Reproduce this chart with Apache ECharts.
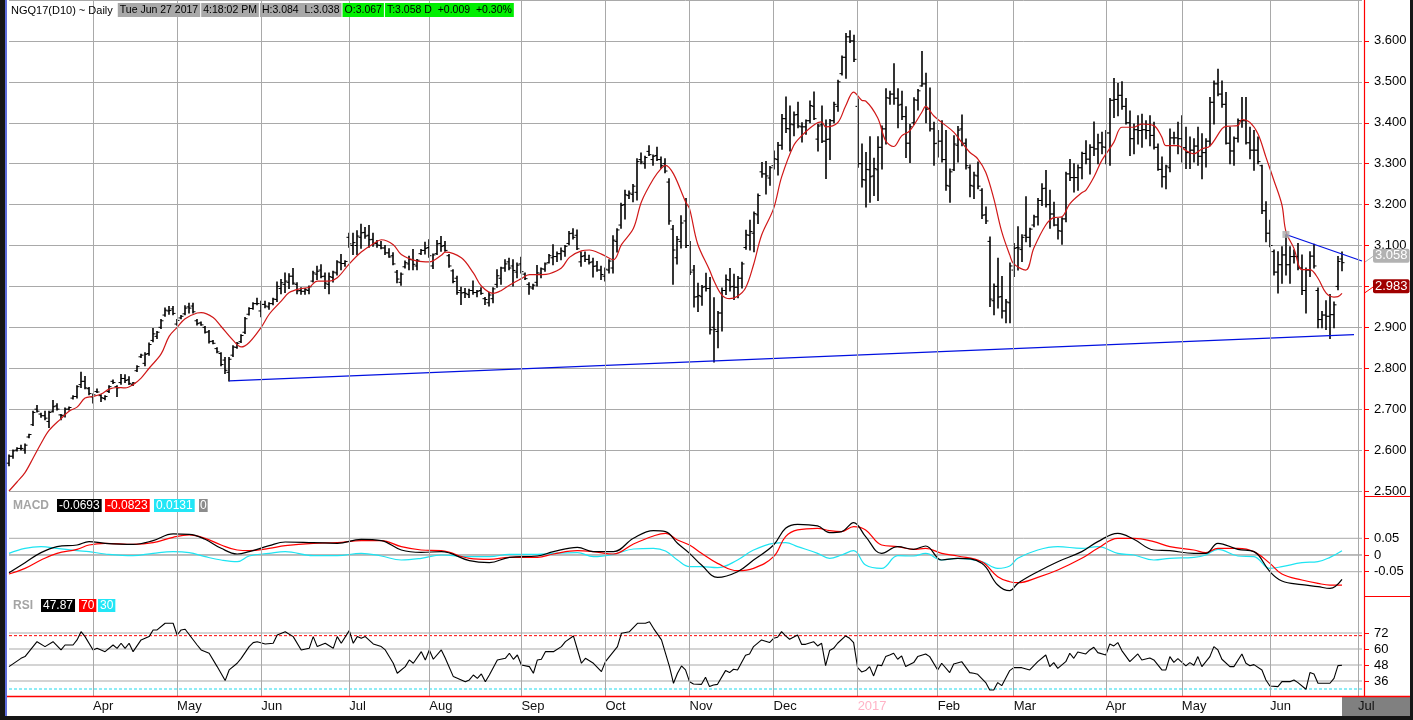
<!DOCTYPE html>
<html><head><meta charset="utf-8">
<script src="https://cdn.jsdelivr.net/npm/echarts@6/dist/echarts.min.js"></script>
<style>html,body{margin:0;padding:0;background:#fff}#c{width:1413px;height:720px}</style>
</head><body><div id="c"></div>
<script>
// ---------- DATA ----------
const holidays = ['2016-03-25','2016-05-30','2016-07-04','2016-09-05','2016-11-24','2016-12-26','2017-01-02','2017-01-16','2017-02-20','2017-04-14','2017-05-29','2017-07-04'];
const firstDay = '2016-03-02', lastDay = '2017-07-05';
const monthNames = ['Jan','Feb','Mar','Apr','May','Jun','Jul','Aug','Sep','Oct','Nov','Dec'];

const highs = [
2.588,2.600,2.606,2.612,2.615,2.639,2.695,2.709,2.690,2.695,
2.695,2.721,2.713,2.687,2.703,2.705,2.733,2.757,2.790,2.780,
2.753,2.737,2.749,2.735,2.733,2.757,2.771,2.757,2.785,2.784,
2.779,2.765,2.806,2.834,2.838,2.862,2.897,2.890,2.919,2.947,
2.951,2.951,2.919,2.929,2.953,2.959,2.959,2.919,2.913,2.902,
2.892,2.868,2.850,2.838,2.826,2.826,2.855,2.863,2.882,2.924,
2.948,2.960,2.971,2.964,2.964,2.960,2.971,3.011,3.017,3.033,
3.031,3.044,3.009,2.997,2.995,3.001,3.037,3.049,3.053,3.033,
3.033,3.037,3.063,3.078,3.063,3.130,3.130,3.136,3.152,3.144,
3.149,3.130,3.112,3.110,3.100,3.092,3.082,3.039,3.033,3.062,
3.074,3.090,3.066,3.090,3.108,3.114,3.079,3.112,3.122,3.110,
3.078,3.041,3.025,2.998,2.995,2.993,3.013,2.990,2.997,2.973,
2.985,2.997,3.041,3.047,3.065,3.069,3.065,3.057,3.071,3.033,
3.009,3.005,3.051,3.045,3.057,3.078,3.102,3.084,3.094,3.100,
3.134,3.141,3.138,3.084,3.084,3.076,3.069,3.061,3.049,3.045,
3.065,3.124,3.141,3.203,3.235,3.233,3.249,3.312,3.326,3.318,
3.344,3.321,3.340,3.316,3.312,3.263,3.149,3.122,3.173,3.215,
3.110,3.051,3.008,3.002,3.032,3.022,2.972,2.939,2.996,3.028,
3.044,3.030,3.024,3.059,3.137,3.162,3.182,3.226,3.303,3.305,
3.293,3.331,3.352,3.420,3.463,3.441,3.426,3.450,3.400,3.407,
3.453,3.475,3.396,3.441,3.407,3.408,3.450,3.504,3.563,3.618,
3.625,3.614,3.458,3.348,3.327,3.366,3.313,3.366,3.392,3.483,
3.477,3.544,3.483,3.477,3.439,3.396,3.461,3.481,3.574,3.521,
3.485,3.401,3.381,3.405,3.381,3.287,3.368,3.391,3.419,3.360,
3.297,3.279,3.304,3.239,3.194,3.121,3.006,3.069,3.024,2.968,
3.057,3.105,3.146,3.126,3.219,3.142,3.174,3.215,3.251,3.283,
3.235,3.206,3.166,3.168,3.279,3.310,3.300,3.297,3.328,3.356,
3.346,3.402,3.372,3.377,3.381,3.459,3.508,3.496,3.500,3.459,
3.429,3.397,3.417,3.421,3.405,3.417,3.401,3.348,3.316,3.296,
3.385,3.377,3.401,3.417,3.389,3.365,3.361,3.389,3.373,3.361,
3.462,3.502,3.531,3.502,3.474,3.389,3.365,3.409,3.462,3.462,
3.389,3.381,3.365,3.296,3.207,3.162,3.089,3.085,3.097,3.126,
3.097,3.089,3.105,3.077,3.045,3.085,3.103,2.996,2.939,2.965,
2.980,2.962,3.073,3.084];

const lows = [
2.562,2.580,2.598,2.600,2.592,2.630,2.660,2.693,2.680,2.674,
2.655,2.693,2.698,2.674,2.681,2.698,2.725,2.727,2.753,2.750,
2.735,2.715,2.741,2.719,2.723,2.741,2.763,2.731,2.761,2.765,
2.760,2.758,2.792,2.826,2.806,2.832,2.865,2.873,2.897,2.927,
2.932,2.931,2.905,2.921,2.931,2.935,2.935,2.906,2.905,2.886,
2.862,2.860,2.838,2.806,2.787,2.769,2.829,2.849,2.863,2.885,
2.930,2.944,2.955,2.926,2.948,2.944,2.955,2.963,2.982,2.985,
2.995,3.005,2.982,2.981,2.981,2.982,3.011,3.017,3.021,2.995,
2.982,3.011,3.028,3.041,3.049,3.096,3.078,3.078,3.093,3.118,
3.096,3.098,3.096,3.092,3.078,3.071,3.053,3.009,3.003,3.045,
3.041,3.041,3.041,3.078,3.079,3.071,3.044,3.078,3.086,3.086,
3.047,3.009,2.981,2.956,2.973,2.973,2.981,2.975,2.981,2.956,
2.952,2.960,2.998,3.005,3.037,3.041,3.001,3.021,3.033,3.017,
2.981,2.993,3.001,3.021,3.037,3.057,3.053,3.061,3.065,3.074,
3.102,3.116,3.090,3.049,3.061,3.055,3.023,3.037,3.017,3.013,
3.033,3.033,3.084,3.142,3.165,3.215,3.207,3.211,3.300,3.289,
3.320,3.296,3.308,3.289,3.278,3.152,3.005,3.055,3.094,3.095,
3.029,2.950,2.939,2.954,2.989,2.884,2.815,2.850,2.891,2.980,
2.989,2.968,2.972,2.996,3.091,3.089,3.085,3.154,3.267,3.226,
3.247,3.287,3.272,3.335,3.376,3.331,3.368,3.388,3.353,3.372,
3.400,3.408,3.331,3.352,3.264,3.310,3.400,3.428,3.517,3.509,
3.596,3.550,3.291,3.243,3.194,3.206,3.222,3.210,3.287,3.348,
3.445,3.445,3.388,3.408,3.315,3.303,3.396,3.431,3.489,3.400,
3.380,3.296,3.316,3.304,3.235,3.206,3.283,3.304,3.344,3.287,
3.219,3.215,3.239,3.166,3.154,2.951,2.931,2.947,2.923,2.911,
2.911,3.024,3.040,3.061,3.109,3.097,3.146,3.150,3.198,3.194,
3.142,3.148,3.116,3.103,3.158,3.259,3.231,3.235,3.263,3.300,
3.275,3.320,3.300,3.324,3.300,3.296,3.413,3.417,3.433,3.397,
3.320,3.324,3.348,3.340,3.361,3.344,3.336,3.284,3.243,3.239,
3.280,3.348,3.324,3.304,3.288,3.288,3.304,3.296,3.263,3.292,
3.344,3.397,3.466,3.438,3.348,3.300,3.296,3.353,3.389,3.348,
3.312,3.284,3.300,3.178,3.109,3.097,3.028,2.984,3.008,3.028,
3.008,3.057,3.041,2.980,2.935,3.024,3.045,2.899,2.899,2.895,
2.873,2.899,2.992,3.038];

const opens = [
2.568,2.585,2.600,2.604,2.600,2.632,2.662,2.700,2.688,2.684,
2.670,2.695,2.708,2.686,2.685,2.700,2.727,2.731,2.760,2.768,
2.750,2.730,2.743,2.733,2.726,2.743,2.768,2.755,2.765,2.775,
2.772,2.760,2.794,2.828,2.812,2.836,2.868,2.878,2.900,2.930,
2.940,2.945,2.908,2.923,2.933,2.950,2.952,2.916,2.911,2.900,
2.889,2.866,2.848,2.836,2.820,2.790,2.832,2.851,2.865,2.888,
2.932,2.946,2.958,2.940,2.956,2.950,2.958,2.968,2.995,3.005,
3.010,3.025,3.005,2.990,2.988,2.990,3.013,3.030,3.040,3.025,
3.005,3.022,3.033,3.058,3.056,3.120,3.100,3.100,3.120,3.132,
3.125,3.115,3.105,3.100,3.094,3.082,3.075,3.035,3.010,3.048,
3.055,3.065,3.050,3.080,3.088,3.095,3.050,3.080,3.105,3.100,
3.075,3.038,3.020,2.990,2.985,2.980,2.990,2.985,2.990,2.970,
2.960,2.970,3.005,3.020,3.045,3.060,3.050,3.035,3.055,3.030,
3.005,2.996,3.010,3.030,3.042,3.058,3.070,3.073,3.080,3.085,
3.105,3.130,3.125,3.060,3.075,3.066,3.060,3.050,3.040,3.025,
3.040,3.045,3.110,3.150,3.200,3.222,3.225,3.230,3.310,3.300,
3.330,3.310,3.320,3.310,3.300,3.255,3.140,3.070,3.110,3.160,
3.100,3.040,2.975,2.975,3.000,2.995,2.900,2.890,2.935,2.990,
3.015,3.000,2.998,3.020,3.095,3.125,3.130,3.175,3.280,3.275,
3.265,3.295,3.310,3.345,3.410,3.385,3.395,3.420,3.390,3.390,
3.405,3.440,3.360,3.395,3.355,3.360,3.405,3.440,3.520,3.560,
3.610,3.600,3.440,3.300,3.260,3.285,3.270,3.285,3.340,3.385,
3.460,3.470,3.460,3.445,3.415,3.350,3.400,3.455,3.490,3.495,
3.435,3.385,3.350,3.355,3.310,3.245,3.285,3.345,3.385,3.350,
3.290,3.245,3.270,3.235,3.175,3.110,2.965,3.000,2.975,2.940,
2.960,3.040,3.095,3.090,3.125,3.120,3.150,3.170,3.210,3.240,
3.200,3.177,3.150,3.135,3.165,3.275,3.266,3.266,3.290,3.325,
3.311,3.340,3.336,3.351,3.340,3.375,3.455,3.457,3.467,3.440,
3.400,3.361,3.383,3.381,3.383,3.381,3.369,3.340,3.286,3.268,
3.290,3.363,3.363,3.361,3.339,3.327,3.333,3.343,3.318,3.327,
3.355,3.450,3.495,3.470,3.445,3.350,3.331,3.362,3.405,3.405,
3.351,3.333,3.333,3.295,3.185,3.130,3.085,3.035,3.053,3.077,
3.053,3.073,3.073,3.045,2.990,3.040,3.074,2.990,2.919,2.930,
2.927,2.931,3.000,3.067];

const closes = [
2.585,2.598,2.604,2.604,2.612,2.638,2.692,2.695,2.684,2.678,
2.692,2.706,2.700,2.685,2.700,2.704,2.731,2.755,2.768,2.752,
2.738,2.735,2.742,2.728,2.731,2.755,2.765,2.752,2.775,2.770,
2.763,2.764,2.804,2.832,2.834,2.858,2.884,2.888,2.916,2.942,
2.941,2.934,2.917,2.927,2.947,2.947,2.938,2.909,2.906,2.888,
2.865,2.861,2.840,2.809,2.795,2.822,2.852,2.861,2.880,2.921,
2.946,2.958,2.958,2.956,2.952,2.958,2.969,3.000,3.009,3.013,
3.025,3.008,2.989,2.988,2.992,2.999,3.033,3.037,3.024,3.008,
3.024,3.035,3.060,3.056,3.061,3.104,3.107,3.123,3.131,3.123,
3.114,3.104,3.101,3.094,3.082,3.072,3.055,3.018,3.030,3.058,
3.066,3.054,3.064,3.088,3.093,3.075,3.077,3.104,3.098,3.088,
3.050,3.012,2.985,2.984,2.983,2.990,2.985,2.988,2.983,2.968,
2.979,2.994,3.026,3.045,3.055,3.045,3.039,3.052,3.036,3.019,
2.999,3.003,3.033,3.043,3.055,3.075,3.073,3.080,3.087,3.098,
3.129,3.120,3.092,3.073,3.066,3.058,3.049,3.040,3.029,3.042,
3.062,3.113,3.138,3.198,3.224,3.228,3.245,3.305,3.304,3.315,
3.322,3.318,3.310,3.295,3.282,3.160,3.089,3.115,3.155,3.100,
3.035,2.974,2.978,2.998,2.995,2.894,2.895,2.935,2.990,3.017,
2.999,2.998,3.020,3.055,3.126,3.134,3.178,3.222,3.275,3.270,
3.290,3.312,3.345,3.410,3.386,3.397,3.419,3.392,3.390,3.405,
3.442,3.410,3.392,3.355,3.359,3.405,3.445,3.500,3.560,3.610,
3.600,3.555,3.300,3.261,3.286,3.268,3.288,3.340,3.385,3.461,
3.470,3.460,3.443,3.415,3.350,3.390,3.456,3.478,3.495,3.433,
3.385,3.349,3.355,3.310,3.247,3.280,3.348,3.382,3.350,3.295,
3.247,3.272,3.245,3.174,3.160,2.969,3.000,2.974,2.940,2.962,
3.050,3.093,3.094,3.120,3.120,3.140,3.170,3.210,3.239,3.200,
3.177,3.150,3.136,3.165,3.275,3.266,3.266,3.290,3.325,3.311,
3.340,3.336,3.351,3.341,3.375,3.455,3.457,3.467,3.440,3.400,
3.361,3.383,3.381,3.383,3.381,3.369,3.340,3.286,3.268,3.294,
3.363,3.363,3.361,3.339,3.327,3.333,3.343,3.318,3.327,3.355,
3.450,3.495,3.470,3.445,3.350,3.331,3.362,3.405,3.405,3.351,
3.333,3.333,3.305,3.185,3.130,3.100,3.035,3.053,3.077,3.053,
3.073,3.073,3.045,2.990,3.040,3.074,3.050,2.919,2.930,2.927,
2.931,2.955,3.061,3.058];

// 10-day moving average: [bar index, value]
const maPts = [[0,2.500],[2,2.522],[4,2.545],[6,2.580],[8,2.616],[10,2.648],[13,2.677],[15,2.695],[17,2.705],[19,2.727],
[21,2.731],[23,2.737],[25,2.749],[27,2.753],[29,2.752],[31,2.760],[33,2.776],[35,2.800],[38,2.835],[40,2.878],
[42,2.900],[44,2.921],[47,2.935],[48,2.936],[51,2.924],[53,2.902],[56,2.868],[58,2.852],[60,2.863],[63,2.900],
[65,2.932],[68,2.964],[70,2.985],[73,2.995],[75,2.998],[77,3.013],[80,3.013],[82,3.021],[85,3.055],[88,3.084],
[91,3.104],[93,3.114],[96,3.102],[98,3.078],[102,3.062],[105,3.060],[108,3.076],[109,3.084],[113,3.070],[116,3.033],
[118,3.001],[121,2.983],[123,2.990],[125,3.003],[128,3.019],[130,3.029],[133,3.029],[135,3.031],[138,3.045],[140,3.071],
[143,3.087],[145,3.089],[148,3.079],[151,3.065],[153,3.102],[156,3.142],[158,3.207],[161,3.263],[163,3.289],[164,3.296],
[166,3.275],[169,3.207],[170,3.190],[172,3.105],[175,3.040],[176,3.016],[178,2.980],[180,2.970],[182,2.976],[184,2.996],
[186,3.053],[188,3.125],[191,3.190],[193,3.267],[196,3.344],[198,3.368],[201,3.394],[203,3.402],[204,3.390],[207,3.400],
[209,3.441],[211,3.475],[213,3.455],[214,3.453],[217,3.412],[219,3.356],[221,3.342],[223,3.368],[225,3.380],[228,3.425],
[229,3.440],[231,3.417],[233,3.401],[236,3.377],[238,3.352],[240,3.328],[242,3.312],[244,3.279],[246,3.215],[248,3.134],
[250,3.077],[251,3.055],[254,3.040],[256,3.093],[259,3.150],[261,3.168],[263,3.170],[265,3.202],[268,3.229],[269,3.235],
[271,3.267],[273,3.308],[276,3.352],[278,3.389],[281,3.389],[283,3.397],[286,3.393],[288,3.365],[289,3.344],[292,3.344],
[294,3.332],[296,3.324],[298,3.336],[300,3.343],[303,3.385],[304,3.391],[307,3.393],[308,3.408],[310,3.401],[312,3.373],
[314,3.316],[316,3.259],[318,3.199],[319,3.134],[321,3.093],[323,3.041],[325,3.041],[327,3.020],[329,2.984],[331,2.974],
[332,2.975],[333,2.983]];

// MACD panel: [bar index, MACD, signal, difference]
const macdRows = [[0,-0.053,-0.057,0.005],[4,-0.023,-0.040,0.020],[8,0.007,-0.015,0.025],[12,0.025,0.005,0.020],
[17,0.030,0.017,0.013],[20,0.040,0.030,0.010],[24,0.035,0.035,0.003],[31,0.032,0.032,-0.002],[36,0.043,0.037,0.005],
[41,0.063,0.053,0.010],[45,0.062,0.060,0.007],[49,0.047,0.050,-0.005],[53,0.020,0.030,-0.015],[57,0.003,0.015,-0.020],
[60,0.010,0.013,-0.003],[65,0.028,0.020,0.005],[69,0.039,0.028,0.010],[76,0.037,0.035,-0.002],[82,0.035,0.037,-0.002],
[88,0.047,0.043,0.005],[93,0.043,0.043,-0.003],[98,0.015,0.025,-0.015],[103,0.008,0.015,-0.010],[108,0.010,0.013,0.000],
[115,-0.017,-0.010,-0.005],[120,-0.023,-0.013,-0.005],[125,-0.007,-0.007,0.002],[132,-0.003,-0.007,0.002],[136,0.010,0.003,0.005],
[142,0.023,0.013,0.007],[146,0.010,0.010,-0.005],[151,0.010,0.003,0.002],[156,0.050,0.033,0.018],[161,0.073,0.057,0.020],
[164,0.070,0.065,0.012],[167,0.035,0.045,-0.015],[170,0.005,0.030,-0.035],[173,-0.030,0.005,-0.035],[177,-0.067,-0.025,-0.038],
[182,-0.050,-0.047,-0.015],[186,-0.015,-0.040,0.015],[191,0.030,-0.005,0.035],[194,0.080,0.055,0.037],[197,0.092,0.075,0.025],
[202,0.087,0.080,0.005],[205,0.067,0.073,-0.010],[208,0.070,0.070,0.000],[211,0.097,0.085,0.013],[214,0.055,0.075,-0.030],
[218,0.005,0.030,-0.040],[222,0.025,0.025,-0.002],[226,0.017,0.017,-0.003],[229,0.027,0.020,0.005],[233,-0.015,0.005,-0.015],
[237,-0.010,-0.003,-0.010],[243,-0.025,-0.020,-0.020],[247,-0.090,-0.065,-0.040],[250,-0.107,-0.080,-0.033],[252,-0.085,-0.083,-0.010],
[257,-0.050,-0.067,0.015],[262,-0.020,-0.045,0.025],[268,0.010,-0.010,0.020],[272,0.040,0.020,0.025],[277,0.065,0.050,0.005],
[281,0.047,0.050,0.000],[286,0.015,0.040,-0.015],[290,0.013,0.025,-0.010],[296,0.005,0.015,-0.007],[299,0.005,0.007,0.000],
[302,0.035,0.020,0.017],[307,0.017,0.020,-0.003],[311,0.010,0.010,-0.005],[315,-0.050,-0.025,-0.040],[318,-0.078,-0.057,-0.035],
[323,-0.089,-0.075,-0.023],[327,-0.095,-0.085,-0.020],[330,-0.100,-0.090,-0.007],[333,-0.073,-0.090,0.013]];

// RSI: [bar index, value]
const rsiPts = [[0,46.8],[3,53.0],[4,54.3],[7,65.5],[9,61.8],[11,65.5],[13,59.3],[14,63.0],[16,63.0],[17,66.8],[18,73.0],[19,69.3],
[21,59.3],[22,60.5],[24,58.0],[26,63.0],[27,60.5],[28,64.3],[29,60.5],[30,64.3],[31,58.0],[33,66.8],[35,69.3],[36,74.3],[37,74.3],
[39,79.3],[41,79.3],[42,70.5],[43,74.3],[44,74.8],[47,63.0],[48,59.3],[50,56.8],[52,46.8],[54,36.3],[55,44.3],[57,49.3],[58,53.0],
[60,61.8],[61,64.8],[62,65.5],[64,63.8],[66,64.3],[67,70.5],[69,73.0],[71,69.3],[73,59.3],[75,60.5],[76,69.3],[77,61.8],[79,64.3],
[81,60.5],[82,69.3],[83,64.3],[85,73.8],[86,64.3],[87,69.3],[88,68.0],[89,69.3],[91,63.8],[93,61.8],[94,59.3],[96,49.3],[97,41.8],
[99,46.8],[100,51.8],[101,49.3],[103,58.0],[104,51.8],[105,59.3],[106,52.3],[108,59.3],[109,53.0],[111,39.3],[114,35.5],[115,36.8],
[116,40.5],[117,38.0],[118,41.3],[119,35.5],[120,40.5],[122,51.8],[124,53.0],[125,56.8],[126,52.3],[127,55.5],[128,48.0],[130,46.8],
[131,41.8],[132,51.8],[133,52.3],[134,58.0],[136,58.0],[138,61.8],[139,65.5],[141,69.8],[143,49.3],[144,53.0],[146,49.3],[148,43.0],
[149,50.5],[152,61.8],[153,71.8],[155,73.0],[157,79.3],[159,79.3],[160,80.5],[161,75.5],[163,66.8],[165,46.8],[166,34.3],[167,41.8],
[168,47.3],[169,44.3],[170,35.5],[171,33.8],[173,33.5],[174,38.8],[175,31.8],[176,33.0],[177,33.5],[179,43.8],[180,42.3],[181,44.8],
[182,44.3],[184,55.3],[185,56.3],[186,61.8],[188,66.8],[190,64.8],[191,68.0],[192,68.8],[193,73.0],[194,69.8],[195,67.3],[197,70.5],
[198,63.5],[199,63.5],[201,65.5],[202,62.3],[203,64.3],[204,47.5],[205,58.8],[206,60.5],[207,64.3],[209,69.8],[210,68.0],[211,64.8],
[212,46.0],[213,42.8],[214,43.8],[215,46.8],[216,39.8],[217,48.0],[218,47.5],[219,54.3],[220,55.5],[221,56.8],[222,52.3],[223,54.8],
[224,46.8],[226,49.8],[227,54.3],[229,56.3],[230,54.3],[232,44.3],[233,49.3],[235,42.3],[236,48.8],[238,50.5],[240,42.3],[241,41.8],
[242,41.0],[244,34.8],[245,29.3],[246,29.3],[247,34.8],[248,32.5],[250,43.8],[251,46.0],[253,46.0],[255,44.3],[257,50.5],[259,55.5],
[260,46.8],[261,49.8],[262,45.5],[264,50.5],[265,56.8],[266,53.0],[267,57.8],[269,56.3],[270,59.3],[271,61.3],[272,57.3],[274,55.5],
[275,63.8],[276,62.3],[277,64.8],[278,58.8],[280,50.5],[282,56.3],[283,51.8],[285,53.3],[286,51.8],[288,44.3],[289,44.3],[290,54.3],
[291,50.0],[292,52.8],[294,47.3],[295,49.8],[296,47.8],[297,54.3],[298,46.8],[300,54.3],[301,61.8],[302,59.3],[303,52.3],[305,46.8],
[306,46.8],[308,56.3],[309,49.3],[310,47.5],[311,48.3],[313,44.3],[314,36.8],[315,32.3],[317,31.8],[318,35.5],[320,35.5],[321,36.8],
[322,34.8],[324,29.8],[325,42.3],[326,41.3],[327,34.3],[328,34.3],[330,34.3],[331,38.0],[332,47.5],[333,47.8]];

const supportLine = [['2016-05-19', 2.769], ['2017-06-30', 2.882]];
const resistLine  = [['2017-06-07', 3.127], ['2017-07-05', 3.062]];
const lastPrice = 3.058, lastMA = 2.983;
const priceTicks = { min: 2.5, max: 3.7, step: 0.1 };
const macdTicks = [-0.05, 0, 0.05];
const rsiTicks = [36, 48, 60, 72];
const rsiBands = { high: 70, low: 30 };
const header = { sym: 'NGQ17(D10) ~ Daily', date: 'Tue Jun 27 2017', time: '4:18:02 PM', hl: 'H:3.084  L:3.038', open: 'O:3.067', last: 'T:3.058 D  +0.009  +0.30%' };
const macdLegend = ['-0.0693', '-0.0823', '0.0131', '0'];
const rsiLegend = ['47.87', '70', '30'];

// ---------- CATEGORIES (trading days) ----------
const dates = [];
for (let t = Date.parse(firstDay + 'T00:00:00Z'); t <= Date.parse(lastDay + 'T00:00:00Z'); t += 86400000) {
  const d = new Date(t), wd = d.getUTCDay(), s = d.toISOString().slice(0, 10);
  if (wd === 0 || wd === 6 || holidays.indexOf(s) >= 0) continue;
  dates.push(s);
}
const monthStart = new Set();
for (let i = 1; i < dates.length; i++) if (dates[i].slice(5, 7) !== dates[i - 1].slice(5, 7)) monthStart.add(i);
const lastIdx = dates.length - 1;

const ohlc = closes.map((c, i) => [i, opens[i], highs[i], lows[i], c]);

// ---------- CHART ----------
const FONT = 'Liberation Sans, Arial, sans-serif';
const GRIDC = '#a9a9a9';
const chart = echarts.init(document.getElementById('c'));
const xBase = (gi) => ({ type: 'category', gridIndex: gi, data: dates, boundaryGap: false,
  axisLine: { show: false }, axisTick: { show: false }, axisLabel: { show: false }, splitLine: { show: false } });
const xs = [xBase(0), xBase(1), xBase(2), xBase(3)];
xs[0].z = 10;
xs[0].axisLabel = { show: true, interval: (i) => monthStart.has(i), align: 'left', margin: 4, fontSize: 13, color: '#111', fontFamily: FONT,
  formatter: (v) => { const m = +v.slice(5, 7); const y = v.slice(0, 4);
    if (m === 1) return '{y|' + y + '}';
    if (y === '2017' && m === 7) return '{g|' + monthNames[m - 1] + '}';
    return monthNames[m - 1]; },
  rich: { y: { color: '#ffb3c6', fontSize: 13, fontFamily: FONT }, g: { color: '#111', fontSize: 13, fontFamily: FONT } } };
xs[0].splitLine = { show: true, interval: (i) => monthStart.has(i), lineStyle: { color: GRIDC, width: 1 } };

const yRight = (gi, extra) => Object.assign({ type: 'value', gridIndex: gi, position: 'right', offset: 2,
  axisLine: { show: false }, axisTick: { show: true, length: 5, lineStyle: { color: '#ff0000' } },
  axisLabel: { margin: 10, color: '#000', fontSize: 13, fontFamily: FONT }, splitLine: { show: false } }, extra);

// horizontal reference lines built from the tick arrays (drawn through the axes)
function hLine(v, xi, yi, color, type, z) {
  return { type: 'line', xAxisIndex: xi, yAxisIndex: yi, data: [[0, v], [lastIdx, v]], symbol: 'none', silent: true, z: z,
    lineStyle: { color: color, width: 1, type: type } };
}
const refSeries = []
  .concat(macdTicks.map(v => hLine(v, 2, 2, v === 0 ? '#7a7a7a' : GRIDC, 'solid', 1)))
  .concat(rsiTicks.map(v => hLine(v, 3, 3, GRIDC, 'solid', 1)))
  .concat([hLine(rsiBands.high, 3, 3, '#ff0000', [3, 2], 2), hLine(rsiBands.low, 3, 3, '#1ed8ea', [3, 2], 2)]);

const headerRich = {
  t: { color: '#a4a4a4', fontSize: 11, fontFamily: FONT, padding: [2, 5, 1, 0] },
  g: { color: '#ffffff', backgroundColor: '#a8a8a8', fontSize: 10.5, fontFamily: FONT, padding: [2, 2, 1, 2] },
  v: { color: '#ffffff', backgroundColor: '#00ee00', fontSize: 10.5, fontFamily: FONT, padding: [2, 2, 1, 2] },
  s: { width: 1, fontSize: 10 }
};
const headerText = '{t|' + header.sym + '}{g|' + header.date + '}{s|}{g|' + header.time + '}{s|}{g|' + header.hl + '}{s|}{v|' + header.open + '}{s|}{v|' + header.last + '}';

const option = {
  backgroundColor: '#ffffff',
  animation: false,
  textStyle: { fontFamily: FONT },
  grid: [
    { left: 9, right: 51, top: 0, bottom: 24 },
    { left: 9, right: 51, top: -4.3, bottom: 229 },
    { left: 9, right: 51, top: 497, bottom: 124 },
    { left: 9, right: 51, top: 596, bottom: 24 }
  ],
  xAxis: xs,
  yAxis: [
    { type: 'value', gridIndex: 0, show: false, min: 0, max: 1 },
    yRight(1, { min: priceTicks.min, max: priceTicks.max, interval: priceTicks.step,
      axisLabel: { margin: 10, color: '#000', fontSize: 13, fontFamily: FONT, showMaxLabel: false, formatter: v => v.toFixed(3) },
      splitLine: { show: true, lineStyle: { color: GRIDC, width: 1 } } }),
    yRight(2, { min: -0.1228, max: 0.1737,
      axisTick: { show: true, length: 5, customValues: macdTicks, lineStyle: { color: '#ff0000' } },
      axisLabel: { margin: 10, color: '#000', fontSize: 13, fontFamily: FONT, customValues: macdTicks, formatter: v => (Math.abs(v) < 1e-9 ? '0' : v.toFixed(2)) } }),
    yRight(3, { min: 24.75, max: 99.75,
      axisTick: { show: true, length: 5, customValues: rsiTicks, lineStyle: { color: '#ff0000' } },
      axisLabel: { margin: 10, color: '#000', fontSize: 13, fontFamily: FONT, customValues: rsiTicks, formatter: v => String(Math.round(v)) } })
  ],
  series: refSeries.concat([
    { type: 'custom', name: 'bars', xAxisIndex: 1, yAxisIndex: 1, data: ohlc, encode: { x: 0, y: [1, 2, 3, 4] }, clip: false, z: 3,
      renderItem: function (params, api) {
        const x = Math.round(api.coord([api.value(0), api.value(1)])[0]);
        const o = api.coord([api.value(0), api.value(1)])[1];
        const h = api.coord([api.value(0), api.value(2)])[1];
        const l = api.coord([api.value(0), api.value(3)])[1];
        const c = api.coord([api.value(0), api.value(4)])[1];
        return { type: 'group', children: [
          { type: 'line', shape: { x1: x, y1: h - 0.5, x2: x, y2: l + 0.5 }, style: { stroke: '#000', lineWidth: 1.6 } },
          { type: 'line', shape: { x1: x - 2.5, y1: o, x2: x, y2: o }, style: { stroke: '#000', lineWidth: 1 } },
          { type: 'line', shape: { x1: x, y1: c, x2: x + 2.5, y2: c }, style: { stroke: '#000', lineWidth: 1 } }
        ] };
      } },
    { type: 'line', name: 'MA10', xAxisIndex: 1, yAxisIndex: 1, data: maPts, smooth: 0.35, showSymbol: false, symbol: 'none', z: 4,
      lineStyle: { color: '#d01818', width: 1.2 } },
    { type: 'line', name: 'support', xAxisIndex: 1, yAxisIndex: 1, data: supportLine, showSymbol: false, symbol: 'none', z: 4,
      lineStyle: { color: '#0010e0', width: 1.2 } },
    { type: 'line', name: 'resist', xAxisIndex: 1, yAxisIndex: 1, data: resistLine, showSymbol: false, symbol: 'none', z: 4,
      lineStyle: { color: '#0010e0', width: 1.2 } },
    { type: 'scatter', name: 'anchor', xAxisIndex: 1, yAxisIndex: 1, data: [resistLine[0]], symbol: 'rect', symbolSize: 7, z: 5,
      itemStyle: { color: '#ababab' } },
    { type: 'custom', name: 'lastvals', xAxisIndex: 1, yAxisIndex: 1, data: [[333, lastPrice, 0], [333, lastMA, 1]], clip: false, z: 20,
      encode: { x: 0, y: 1 },
      renderItem: function (params, api) {
        const cs = params.coordSys;
        const y = api.coord([api.value(0), api.value(1)])[1];
        const ax = cs.x + cs.width + 2;
        const kind = api.value(2);
        const bg = kind === 0 ? '#b2b2b2' : '#a00000';
        const lc = kind === 0 ? '#b2b2b2' : '#ff0000';
        return { type: 'group', children: [
          { type: 'line', shape: { x1: ax, y1: y, x2: ax + 10, y2: y - 7 }, style: { stroke: lc, lineWidth: 1 } },
          { type: 'text', x: ax + 9, y: y - 7, style: { text: api.value(1).toFixed(3), fill: '#ffffff', font: '13px ' + FONT,
            backgroundColor: bg, padding: [1, 2, 0, 2], borderRadius: 2, align: 'left', verticalAlign: 'middle' } }
        ] };
      } },
    { type: 'line', name: 'Diff', xAxisIndex: 2, yAxisIndex: 2, data: macdRows.map(r => [r[0], r[3]]), smooth: 0.4, symbol: 'none', z: 3,
      lineStyle: { color: '#1ee4f2', width: 1.2 } },
    { type: 'line', name: 'Signal', xAxisIndex: 2, yAxisIndex: 2, data: macdRows.map(r => [r[0], r[2]]), smooth: 0.4, symbol: 'none', z: 4,
      lineStyle: { color: '#ff0000', width: 1.2 } },
    { type: 'line', name: 'MACD', xAxisIndex: 2, yAxisIndex: 2, data: macdRows.map(r => [r[0], r[1]]), smooth: 0.4, symbol: 'none', z: 5,
      lineStyle: { color: '#000', width: 1.2 } },
    { type: 'line', name: 'RSI', xAxisIndex: 3, yAxisIndex: 3, data: rsiPts, symbol: 'none', z: 4,
      lineStyle: { color: '#000', width: 1.1 } }
  ]),
  graphic: [
    { type: 'rect', z: 1, shape: { x: 1342, y: 697, width: 68, height: 19 }, style: { fill: '#808080' } },
    { type: 'rect', z: 100, shape: { x: 0, y: 0, width: 5, height: 720 }, style: { fill: '#161616' } },
    { type: 'line', z: 100, shape: { x1: 6, y1: 0, x2: 6, y2: 716 }, style: { stroke: '#2a3cd0', lineWidth: 1.5 } },
    { type: 'rect', z: 100, shape: { x: 1410, y: 0, width: 3, height: 720 }, style: { fill: '#161616' } },
    { type: 'rect', z: 100, shape: { x: 0, y: 716, width: 1413, height: 4 }, style: { fill: '#161616' } },
    { type: 'line', z: 50, shape: { x1: 1364.5, y1: 0, x2: 1364.5, y2: 697 }, style: { stroke: '#ff0000', lineWidth: 1.2 } },
    { type: 'line', z: 50, shape: { x1: 7, y1: 696.5, x2: 1410, y2: 696.5 }, style: { stroke: '#ff0000', lineWidth: 1.5 } },
    { type: 'line', z: 50, shape: { x1: 1364, y1: 496.5, x2: 1410, y2: 496.5 }, style: { stroke: '#ff0000', lineWidth: 1.2 } },
    { type: 'line', z: 50, shape: { x1: 1364, y1: 596.5, x2: 1410, y2: 596.5 }, style: { stroke: '#ff0000', lineWidth: 1.2 } },
    // header
    { type: 'text', z: 100, x: 11, y: 3, style: { text: headerText, rich: headerRich, verticalAlign: 'top', font: '11px ' + FONT } },
    // MACD legend
    { type: 'text', z: 100, x: 13, y: 500, style: { text: 'MACD', fill: '#a4a4a4', font: 'bold 12px ' + FONT, verticalAlign: 'top' } },
    { type: 'text', z: 100, x: 57, y: 499, style: { text: macdLegend[0], fill: '#fff', backgroundColor: '#000', padding: [1, 2, 0, 2], font: '12px ' + FONT, verticalAlign: 'top' } },
    { type: 'text', z: 100, x: 105, y: 499, style: { text: macdLegend[1], fill: '#fff', backgroundColor: '#ff0000', padding: [1, 2, 0, 2], font: '12px ' + FONT, verticalAlign: 'top' } },
    { type: 'text', z: 100, x: 154, y: 499, style: { text: macdLegend[2], fill: '#fff', backgroundColor: '#22e6f6', padding: [1, 2, 0, 2], font: '12px ' + FONT, verticalAlign: 'top' } },
    { type: 'text', z: 100, x: 199, y: 499, style: { text: macdLegend[3], fill: '#fff', backgroundColor: '#8c8c8c', padding: [1, 1, 0, 1], font: '12px ' + FONT, verticalAlign: 'top' } },
    // RSI legend
    { type: 'text', z: 100, x: 13, y: 600, style: { text: 'RSI', fill: '#a4a4a4', font: 'bold 12px ' + FONT, verticalAlign: 'top' } },
    { type: 'text', z: 100, x: 41, y: 599, style: { text: rsiLegend[0], fill: '#fff', backgroundColor: '#000', padding: [1, 2, 0, 2], font: '12px ' + FONT, verticalAlign: 'top' } },
    { type: 'text', z: 100, x: 79, y: 599, style: { text: rsiLegend[1], fill: '#fff', backgroundColor: '#ff0000', padding: [1, 2, 0, 2], font: '12px ' + FONT, verticalAlign: 'top' } },
    { type: 'text', z: 100, x: 98, y: 599, style: { text: rsiLegend[2], fill: '#fff', backgroundColor: '#22e6f6', padding: [1, 2, 0, 2], font: '12px ' + FONT, verticalAlign: 'top' } }
  ]
};
chart.setOption(option);
</script></body></html>
